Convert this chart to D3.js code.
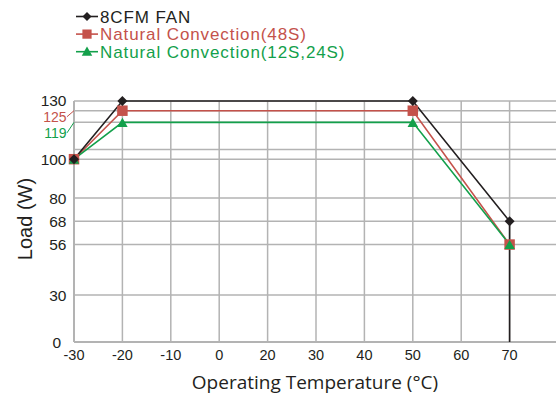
<!DOCTYPE html>
<html><head><meta charset="utf-8">
<script src="https://cdn.jsdelivr.net/npm/d3@7"></script>
<style>body{margin:0;background:#fff}svg{display:block}</style>
</head><body>
<svg id="c" width="556" height="394"></svg>
<script>
const xTicks = [-30, -20, -10, 0, 20, 30, 40, 50, 60, 70];
const yTicks = [0, 30, 56, 68, 80, 100, 119, 125, 130];
const yExtraGrid = [105];
const fanX = [-30, -20, 50, 70, 70];
const fanY = [100, 130, 130, 68, 0];
const nc48X = [-30, -20, 50, 70];
const nc48Y = [100, 125, 125, 56];
const nc12X = [-30, -20, 50, 70];
const nc12Y = [100, 119, 119, 56];
const seriesNames = ["8CFM FAN", "Natural Convection(48S)", "Natural Convection(12S,24S)"];

(function(){
const C_BLACK = "#231f20", C_RED = "#c4524b", C_GREEN = "#13a04b", GRID = "#b3b3b3";
const svg = d3.select("#c");
const pL = 74, pT = 101, pB = 342, pR = 556;

// x is a category-style axis: equal spacing per tick label
const xi = d3.scaleLinear().domain([0, xTicks.length]).range([pL, pL + 48.4 * xTicks.length]);
const x = v => xi(xTicks.indexOf(v));
const y = d3.scaleLinear().domain([0, 30, 130]).range([pB, 295, pT]);

const g = svg.append("g");
// horizontal grid
g.selectAll(".hg").data(yTicks.concat(yExtraGrid).filter(v => v > 0)).enter().append("line")
  .attr("x1", pL).attr("x2", pR).attr("y1", d => y(d)).attr("y2", d => y(d))
  .attr("stroke", GRID).attr("stroke-width", 1.5);
// vertical grid
g.selectAll(".vg").data(xTicks.slice(1)).enter().append("line")
  .attr("x1", d => x(d)).attr("x2", d => x(d)).attr("y1", pT).attr("y2", pB)
  .attr("stroke", GRID).attr("stroke-width", 1.5);
// axes
g.append("line").attr("x1", pL).attr("x2", pR).attr("y1", pB).attr("y2", pB).attr("stroke", GRID).attr("stroke-width", 2);
g.append("line").attr("x1", pL).attr("x2", pL).attr("y1", pT).attr("y2", pB).attr("stroke", GRID).attr("stroke-width", 2);

// x tick labels
g.selectAll(".xt").data(xTicks).enter().append("text")
  .attr("x", d => x(d)).attr("y", 360).attr("text-anchor", "middle")
  .attr("font-family", "Liberation Sans, Arial, sans-serif").attr("font-size", 14.5).attr("fill", "#231f20")
  .text(d => d);

// y tick labels
const labColor = v => v === 125 ? C_RED : (v === 119 ? C_GREEN : "#231f20");
const labOff = v => v === 125 ? 6 : (v === 119 ? 10.5 : (v === 130 ? -1 : 0));
g.selectAll(".yt").data(yTicks).enter().append("text")
  .attr("x", d => d === 0 ? 61 : 66.5).attr("y", d => y(d) + labOff(d)).attr("dy", "0.36em")
  .attr("text-anchor", "end")
  .attr("font-family", "Liberation Sans, Arial, sans-serif")
  .attr("font-size", d => (d === 125 || d === 119) ? 14 : 15.5)
  .attr("fill", labColor).text(d => d);
// leader lines for 125 / 119
g.selectAll(".ld").data([125, 119]).enter().append("line")
  .attr("x1", 67).attr("y1", d => y(d) + labOff(d)).attr("x2", pL).attr("y2", d => y(d))
  .attr("stroke", labColor).attr("stroke-width", 1);

// titles
svg.append("text").attr("x", 315).attr("y", 389).attr("text-anchor", "middle")
  .attr("font-family", "Open Sans, sans-serif").attr("font-size", 19).attr("fill", "#231f20")
  .text("Operating Temperature (°C)");
svg.append("text").attr("transform", "translate(32,219) rotate(-90)").attr("text-anchor", "middle")
  .attr("font-family", "Liberation Sans, Arial, sans-serif").attr("font-size", 20).attr("fill", "#231f20")
  .text("Load (W)");

const series = [
  {xs: nc48X, ys: nc48Y, c: C_RED, m: "square", n: 4},
  {xs: nc12X, ys: nc12Y, c: C_GREEN, m: "triangle", n: 4},
  {xs: fanX, ys: fanY, c: C_BLACK, m: "diamond", n: 4}
];
const line = d3.line().x(d => x(d[0])).y(d => y(d[1]));
series.forEach(s => {
  svg.append("path").datum(d3.zip(s.xs, s.ys)).attr("d", line)
    .attr("fill", "none").attr("stroke", s.c).attr("stroke-width", 1.6);
});
const sym = {square: d3.symbolSquare, triangle: d3.symbolTriangle, diamond: d3.symbolSquare};
const size = {square: 110, triangle: 48, diamond: 50};
const rot = m => m === "diamond" ? " rotate(45)" : "";
series.forEach(s => {
  svg.selectAll(null).data(d3.zip(s.xs, s.ys).slice(0, s.n)).enter().append("path")
    .attr("d", d3.symbol().type(sym[s.m]).size(size[s.m]))
    .attr("transform", d => `translate(${x(d[0])},${y(d[1]) + (s.m === "triangle" ? 1.5 : 0)})${rot(s.m)}`)
    .attr("fill", s.c);
});

// legend
const leg = [
  {c: C_BLACK, m: "diamond"},
  {c: C_RED, m: "square"},
  {c: C_GREEN, m: "triangle"}
];
leg.forEach((l, i) => {
  const ly = 16.5 + i * 17.6;
  svg.append("line").attr("x1", 76).attr("x2", 98).attr("y1", ly).attr("y2", ly).attr("stroke", l.c).attr("stroke-width", 1.6);
  svg.append("path").attr("d", d3.symbol().type(sym[l.m]).size(l.m === "square" ? 85 : (l.m === "diamond" ? 40 : 48)))
    .attr("transform", `translate(87,${ly + (l.m === "triangle" ? 1 : 0)})${rot(l.m)}`).attr("fill", l.c);
  svg.append("text").attr("x", 100).attr("y", ly).attr("dy", "0.36em")
    .attr("font-family", "Liberation Sans, Arial, sans-serif").attr("font-size", 17)
    .attr("letter-spacing", 0.9)
    .attr("fill", l.c).text(seriesNames[i]);
});
})();
</script>
</body></html>
